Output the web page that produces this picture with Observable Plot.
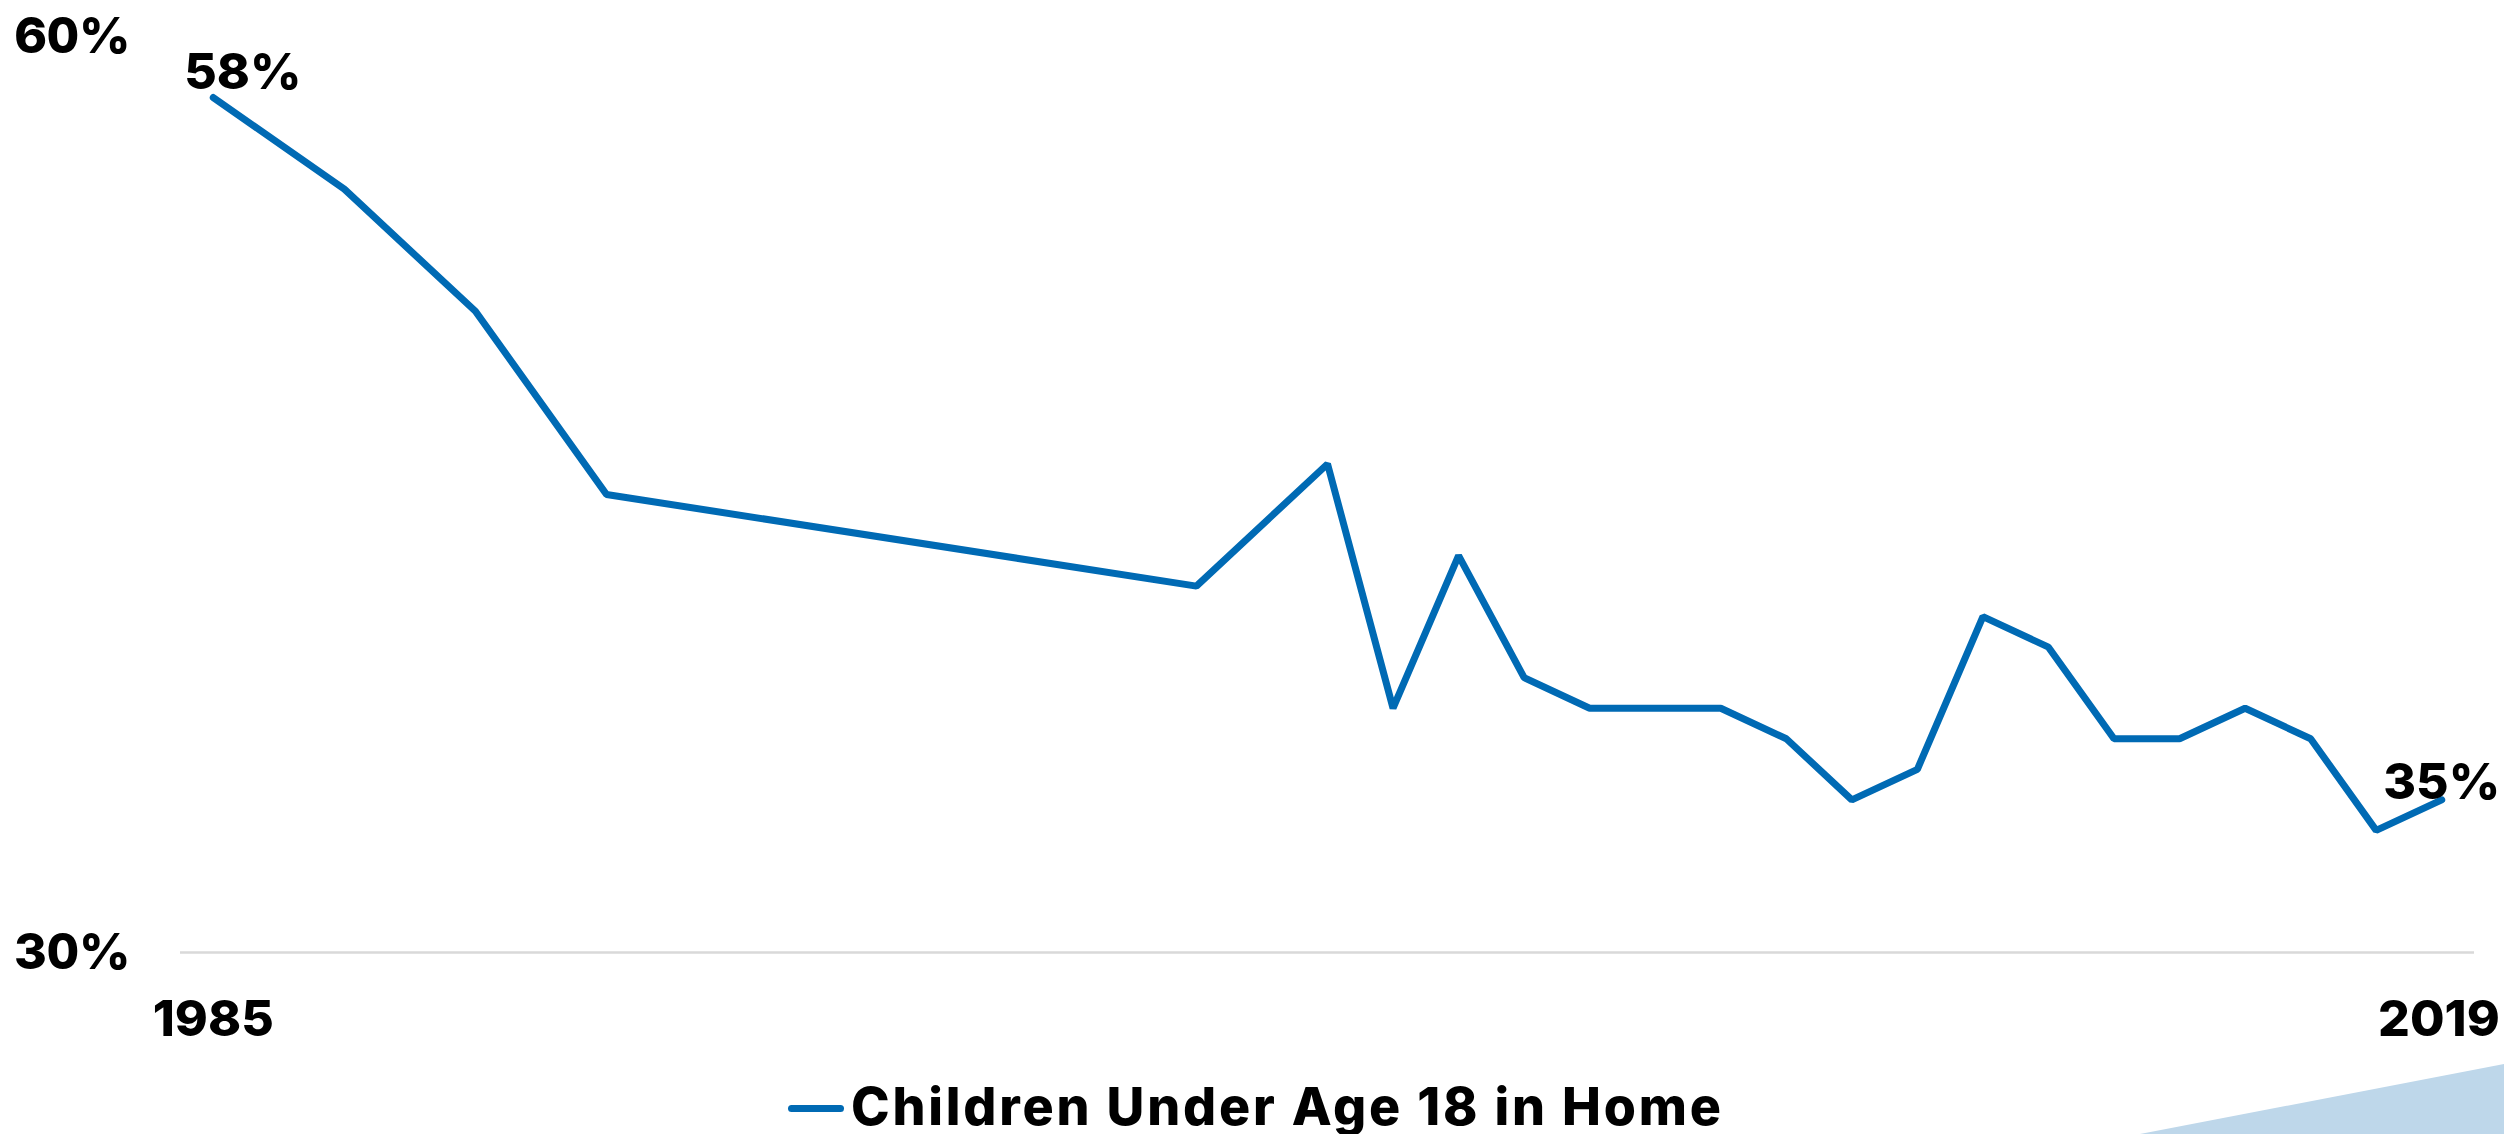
<!DOCTYPE html>
<html>
<head>
<meta charset="utf-8">
<script src="https://cdn.jsdelivr.net/npm/d3@7"></script>
<script src="https://cdn.jsdelivr.net/npm/@observablehq/plot@0.6"></script>
<style>
  html, body { margin: 0; padding: 0; background: #fff; width: 2504px; height: 1134px; overflow: hidden; }
  #chart { position: absolute; left: 0; top: 0; }
  #legend { position: absolute; left: 0; top: 1070px; width: 2504px; height: 64px;
            font-family: Inter, "Open Sans", sans-serif; font-weight: 800; color: #000; }
  #legend .swatch { position: absolute; left: 788px; top: 35px; width: 56px; height: 7px;
                    border-radius: 4px; background: #006ab4; }
  #legend .label { position: absolute; left: 851px; top: 11px; font-size: 52px; line-height: 52px;
                   letter-spacing: 2.8px; white-space: nowrap; }
  #deco { position: absolute; left: 2140px; top: 1064px; width: 364px; height: 70px;
          background: #bed7ea; clip-path: polygon(0 100%, 100% 0, 100% 100%); }
</style>
</head>
<body>
<div id="chart"></div>
<div id="legend"><span class="swatch"></span><span class="label"></span></div>
<div id="deco"></div>
<script>
const years  = [1985, 1987, 1989, 1991, 2000, 2002, 2003, 2004, 2005, 2006, 2008, 2009, 2010, 2011, 2012, 2013, 2014, 2015, 2016, 2017, 2018, 2019];
const values = [58, 55, 51, 45, 42, 46, 38, 43, 39, 38, 38, 37, 35, 36, 41, 40, 37, 37, 38, 37, 34, 35];
const yTicks = [30, 60];
const xTicks = [1985, 2019];
const seriesName = "Children Under Age 18 in Home";
const lineColor = "#006ab4";

const data = years.map((year, i) => ({year, value: values[i]}));
const first = data[0];
const last = data[data.length - 1];

const labelFont = { fontSize: 50, fontWeight: 800, fill: "#000" };

const chart = Plot.plot({
  width: 2504,
  height: 1070,
  marginTop: 36,
  marginBottom: 118,
  marginLeft: 180,
  marginRight: 30,
  style: { fontFamily: "Inter, 'Open Sans', sans-serif", fontSize: "50px", fontWeight: 800, color: "#000", background: "transparent" },
  x: { domain: [1984.5, 2019.5], axis: null },
  y: { domain: [30, 60], ticks: yTicks, tickFormat: d => d + "%", tickSize: 0, tickPadding: 50, label: null },
  marks: [
    Plot.ruleY([30], { stroke: "#d9d9d9", strokeWidth: 2.5 }),
    Plot.line(data, { x: "year", y: "value", stroke: lineColor, strokeWidth: 7, strokeLinecap: "round", strokeLinejoin: "miter" }),
    // x tick labels (first centred on its year, last kept inside the page edge)
    Plot.text([xTicks[0]], { x: d => d, y: yTicks[0], text: d => String(d), textAnchor: "middle", lineAnchor: "top", dy: 48, ...labelFont }),
    Plot.text([xTicks[1]], { x: d => d, y: yTicks[0], text: d => String(d), textAnchor: "end", lineAnchor: "top", dx: 58, dy: 48, ...labelFont }),
    // data labels at the first and last points
    Plot.text([first], { x: "year", y: "value", text: d => d.value + "%", textAnchor: "start", lineAnchor: "bottom", dx: -29, dy: -9, ...labelFont }),
    Plot.text([last], { x: "year", y: "value", text: d => d.value + "%", textAnchor: "middle", lineAnchor: "bottom", dx: 0, dy: -1, ...labelFont })
  ]
});
document.getElementById("chart").appendChild(chart);
document.querySelector("#legend .label").textContent = seriesName;
document.querySelector("#legend .swatch").style.background = lineColor;
</script>
</body>
</html>
